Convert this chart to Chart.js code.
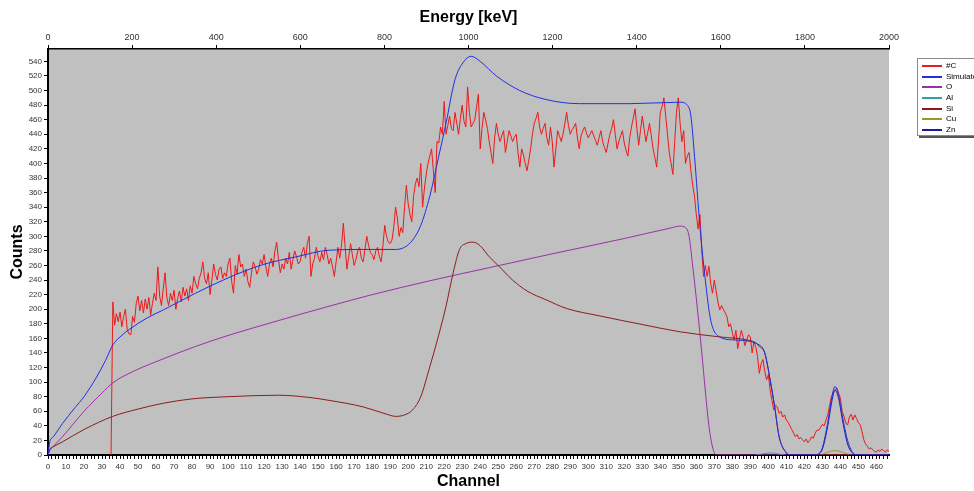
<!DOCTYPE html>
<html>
<head>
<meta charset="utf-8">
<script src="https://cdn.jsdelivr.net/npm/chart.js@4.4.1/dist/chart.umd.min.js"></script>
<style>
  body { margin: 0; background: #fff; font-family: "Liberation Sans", Arial, sans-serif; }
  #wrap { position: relative; width: 974px; height: 491px; overflow: hidden; }
  #legend { position: absolute; left: 917px; top: 58px; width: 80px; height: 76px; background: #fff;
            border: 1px solid #8a8a8a; box-shadow: 2px 2px 0 #555; font-size: 8px; }
  .row { position: absolute; left: 0; width: 80px; height: 10px; }
  .swatch { position: absolute; left: 4px; top: 4px; width: 20px; height: 2px; }
  .lbl { position: absolute; left: 28px; top: 0; line-height: 10px; color: #000; white-space: nowrap; }
</style>
</head>
<body>
<div id="wrap">
  <canvas id="spectrum"></canvas>
  <div id="legend"></div>
</div>
<script>
// measured counts, one value per channel (0..467); nothing recorded below channel 35
const measured = [
  null, null, null, null, null, null, null, null, null, null,   // 0
  null, null, null, null, null, null, null, null, null, null,   // 10
  null, null, null, null, null, null, null, null, null, null,   // 20
  null, null, null, null, null, 0, 210, 178, 194, 183,          // 30
  196, 176, 190, 200, 172, 166, 165, 190, 182, 208,      // 40
  218, 198, 212, 195, 214, 200, 216, 192, 208, 222,      // 50
  212, 258, 218, 205, 228, 250, 216, 205, 222, 212,      // 60
  226, 200, 215, 225, 210, 230, 218, 228, 212, 232,      // 70
  222, 245, 235, 228, 242, 250, 265, 242, 235, 250,      // 80
  220, 240, 262, 248, 240, 255, 258, 242, 250, 245,      // 90
  262, 270, 238, 222, 260, 248, 275, 258, 262, 245,      // 100
  255, 238, 230, 250, 265, 258, 248, 255, 268, 262,      // 110
  275, 258, 245, 262, 270, 258, 280, 292, 268, 250,      // 120
  262, 255, 270, 262, 278, 255, 268, 280, 272, 262,      // 130
  265, 278, 285, 270, 290, 300, 245, 262, 270, 285,      // 140
  272, 265, 278, 268, 285, 275, 262, 270, 258, 245,      // 150
  265, 285, 270, 288, 318, 285, 255, 272, 290, 275,      // 160
  260, 268, 280, 285, 270, 265, 282, 300, 288, 278,      // 170
  275, 268, 280, 285, 272, 265, 288, 315, 300, 292,      // 180
  290, 295, 312, 340, 325, 300, 312, 305, 340, 370,      // 190
  345, 330, 320, 355, 372, 380, 368, 400, 340, 365,      // 200
  385, 400, 410, 420, 390, 360, 430, 428, 450, 440,      // 210
  485, 440, 452, 465, 448, 445, 470, 455, 440, 462,      // 220
  480, 458, 450, 505, 470, 450, 455, 460, 478, 495,      // 230
  420, 448, 470, 460, 448, 430, 415, 400, 435, 455,      // 240
  440, 430, 438, 445, 415, 430, 445, 438, 430, 436,      // 250
  440, 415, 395, 420, 412, 400, 390, 405, 420, 440,      // 260
  455, 462, 470, 450, 440, 448, 455, 435, 425, 450,      // 270
  430, 395, 420, 445, 438, 430, 440, 455, 470, 452,      // 280
  440, 446, 450, 455, 435, 420, 438, 445, 450, 442,      // 290
  435, 440, 445, 438, 432, 425, 435, 445, 430, 422,      // 300
  415, 428, 440, 448, 460, 440, 420, 430, 438, 445,      // 310
  428, 418, 410, 435, 450, 462, 475, 448, 425, 445,      // 320
  465, 448, 430, 442, 455, 438, 420, 408, 395, 430,      // 330
  470, 478, 490, 465, 440, 415, 400, 385, 430, 470,      // 340
  490, 455, 430, 445, 400, 410, 415, 390, 370, 355,      // 350
  330, 310, 330, 282, 245, 260, 245, 259, 235, 222,      // 360
  240, 225, 210, 199, 205, 200, 195, 190, 176, 180,      // 370
  168, 158, 171, 146, 160, 171, 162, 150, 158, 165,      // 380
  162, 140, 155, 149, 135, 112, 125, 131, 115, 103,      // 390
  110, 89, 75, 62, 68, 66, 57, 60, 52, 55,               // 400
  48, 45, 40, 35, 30, 25, 28, 22, 24, 21,                // 410
  18, 22, 17, 20, 25, 23, 30, 34, 34, 38,                // 420
  42, 40, 48, 55, 68, 80, 86, 89, 92, 85,                // 430
  78, 60, 53, 44, 41, 52, 56, 48, 55, 50,                // 440
  44, 42, 32, 21, 15, 12, 8, 10, 7, 5,                   // 450
  4, 7, 5, 8, 6, 4, 7, 5                                 // 460
];

// simulated total spectrum
const simChannels = [0, 1, 3, 8, 15, 20, 27, 32, 36, 40, 45, 55, 64, 82, 100, 119, 138, 156, 175, 193,
  198, 202.5, 207, 212, 217, 221, 226, 231, 235, 240, 249, 262, 276, 295, 323, 351, 355, 357, 359,
  362, 365, 368, 373, 380, 395, 398, 401, 403.5, 406, 410, 412, 427, 430, 433, 435, 437, 439, 441,
  444, 447, 449, 467];
const simCounts = [0, 18, 25, 43, 65, 80, 107, 130, 151, 162, 172, 188, 199, 222, 243, 261, 272, 281, 282, 282,
  285, 295, 315, 355, 410, 455, 515, 540, 547, 540, 520, 500, 488, 482, 482, 484, 480, 465, 410,
  314, 240, 185, 162, 158, 151, 140, 103, 66, 25, 3, 0, 0, 10, 45, 75, 94, 82, 55,
  20, 3, 0, 0];

// O
const oChannels = [0, 1, 3, 8, 20, 30, 36, 45, 60, 82, 100, 119, 140, 156, 180, 212, 245, 280, 320, 345,
  351, 354, 356, 358, 360, 362, 364, 365.5, 367, 369, 371, 467];
const oCounts = [0, 6, 12, 25, 60, 85, 99, 112, 128, 149, 164, 178, 193, 204, 220, 239, 257, 276, 297, 311,
  314, 312, 300, 259, 215, 167, 115, 75, 40, 11, 0, 0];

// Al
const alChannels = [393, 398, 401, 404, 409];
const alCounts = [0, 2, 3, 2, 0];

// Si
const siChannels = [0, 1, 2, 8, 20, 36, 50, 64, 80, 100, 128, 145, 156, 175, 188, 193, 198, 202.5, 207, 212,
  217, 221, 225, 228.5, 232, 236, 240, 245, 250, 258, 266, 276.5, 288, 306, 330, 351, 373, 388, 393,
  395, 398, 401, 403.5, 406, 410, 412, 467];
const siCounts = [0, 8, 10, 18, 35, 53, 63, 71, 77, 80, 82, 79, 75, 66, 56, 53, 55, 62, 80, 121,
  165, 204, 250, 282, 290, 292, 287, 272, 260, 240, 225, 213, 201, 191, 179, 169, 162, 158, 154,
  149, 140, 103, 66, 25, 3, 0, 0];

// Cu
const cuChannels = [429, 432, 437, 442, 445];
const cuCounts = [0, 3, 6, 3, 0];

// Zn
const znChannels = [427, 430, 433, 435, 437, 439, 441, 444, 447, 449];
const znCounts = [0, 8, 40, 70, 89, 78, 50, 15, 2, 0];

// axis ticks
const countTicks = [0, 20, 40, 60, 80, 100, 120, 140, 160, 180, 200, 220, 240, 260, 280, 300, 320, 340,
  360, 380, 400, 420, 440, 460, 480, 500, 520, 540];
const energyTicks = [0, 200, 400, 600, 800, 1000, 1200, 1400, 1600, 1800, 2000];

const toPoints = (xs, ys) => xs.map((x, i) => ({ x: x, y: ys[i] }));

const series = [
  { label: "#C", color: "#f01818", data: measured.map((y, i) => ({ x: i, y: y })), order: 3, smooth: false },
  { label: "Simulated", color: "#1f2fe6", data: toPoints(simChannels, simCounts), order: 0, smooth: true },
  { label: "O", color: "#9b30a8", data: toPoints(oChannels, oCounts), order: 4, smooth: true },
  { label: "Al", color: "#2aa5a5", data: toPoints(alChannels, alCounts), order: 6, smooth: true },
  { label: "Si", color: "#8c1c1c", data: toPoints(siChannels, siCounts), order: 2, smooth: true },
  { label: "Cu", color: "#9a9a20", data: toPoints(cuChannels, cuCounts), order: 5, smooth: true },
  { label: "Zn", color: "#1c1c9a", data: toPoints(znChannels, znCounts), order: 1, smooth: true }
];

const plotBackground = {
  id: "plotBackground",
  beforeDraw(chart) {
    const { ctx, chartArea: a } = chart;
    ctx.save();
    ctx.fillStyle = "#c0c0c0";
    ctx.fillRect(a.left, a.top, a.right - a.left, a.bottom - a.top);
    ctx.restore();
  }
};

const tickFont = { family: "'Liberation Sans', Arial, sans-serif", size: 8 };
const titleFont = { family: "'Liberation Sans', Arial, sans-serif", size: 16, weight: "bold" };
const axisGrid = { drawOnChartArea: false, drawTicks: true, tickLength: 4, color: "#000" };

new Chart(document.getElementById("spectrum"), {
  type: "line",
  data: {
    datasets: series.map(s => ({
      label: s.label,
      data: s.data,
      borderColor: s.color,
      borderWidth: 1,
      pointRadius: 0,
      fill: false,
      spanGaps: false,
      order: s.order,
      tension: 0,
      cubicInterpolationMode: s.smooth ? "monotone" : "default"
    }))
  },
  options: {
    responsive: true,
    maintainAspectRatio: false,
    animation: false,
    layout: { padding: { left: 0, right: 85, top: 0, bottom: 0 } },
    plugins: { legend: { display: false }, tooltip: { enabled: false } },
    scales: {
      x: {
        type: "linear", position: "bottom", min: 0, max: 467, z: 1,
        grid: axisGrid,
        border: { color: "#000", width: 2 },
        ticks: {
          font: tickFont, color: "#333", padding: 3, autoSkip: false, maxRotation: 0, minRotation: 0,
          callback: v => (v % 10 === 0 ? String(v) : "")
        },
        afterBuildTicks(s) {
          const t = [];
          for (let v = 0; v <= 466; v += 2) t.push({ value: v });
          s.ticks = t;
        },
        title: { display: true, text: "Channel", font: titleFont, color: "#000", padding: { top: 0, bottom: 0 } },
        afterFit(s) { s.height = 36; }
      },
      x2: {
        type: "linear", position: "top", min: 0, max: 2000, z: 1,
        grid: axisGrid,
        border: { color: "#000", width: 1.5 },
        ticks: {
          font: { family: tickFont.family, size: 9 }, color: "#333", padding: 2, autoSkip: false, maxRotation: 0,
          callback: v => String(v)
        },
        afterBuildTicks(s) { s.ticks = energyTicks.map(v => ({ value: v })); },
        title: { display: true, text: "Energy [keV]", font: titleFont, color: "#000", padding: { top: 8, bottom: 0 } },
        afterFit(s) { s.height = 49; }
      },
      y: {
        type: "linear", min: 0, max: 557, z: 1,
        grid: axisGrid,
        border: { color: "#000", width: 2 },
        ticks: { font: tickFont, color: "#333", padding: 2, autoSkip: false, callback: v => String(v) },
        afterBuildTicks(s) { s.ticks = countTicks.map(v => ({ value: v })); },
        title: { display: true, text: "Counts", font: titleFont, color: "#000", padding: { top: 8, bottom: 0 } },
        afterFit(s) { s.width = 48; }
      }
    }
  },
  plugins: [plotBackground]
});

// legend box at the right
const legend = document.getElementById("legend");
series.forEach((s, i) => {
  const row = document.createElement("div");
  row.className = "row";
  row.style.top = (2 + i * 10.67) + "px";
  row.innerHTML = `<div class="swatch" style="background:${s.color}"></div><div class="lbl">${s.label}</div>`;
  legend.appendChild(row);
});
</script>
</body>
</html>
